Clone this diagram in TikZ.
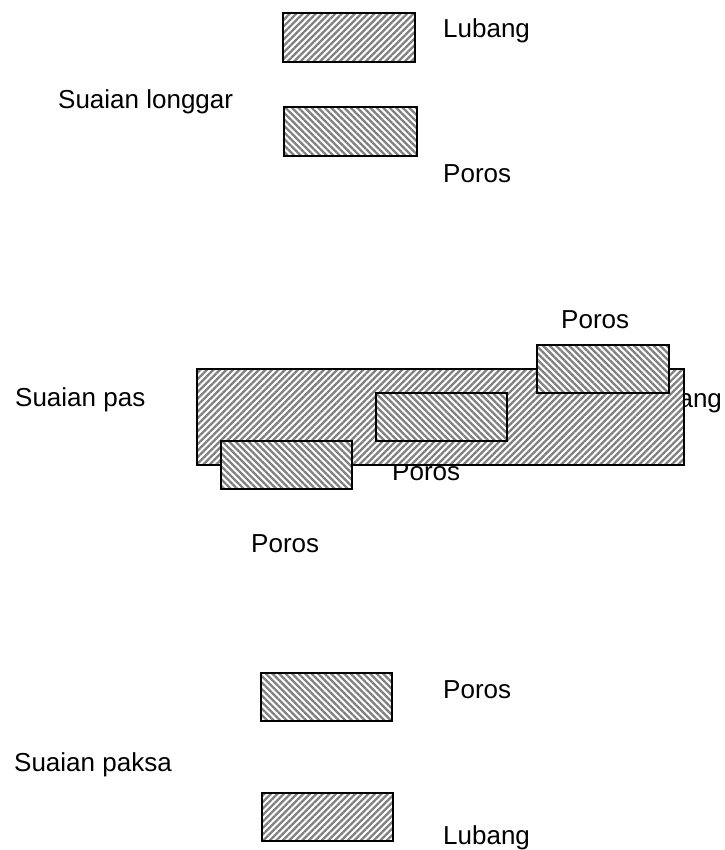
\documentclass[tikz,border=0pt]{standalone}
\usepackage{fontspec}
\setmainfont{Liberation Sans}
\usetikzlibrary{patterns.meta}
\tikzset{
  x=1pt, y=-1pt,
  lbl/.style={anchor=base west, inner sep=0pt, font=\fontsize{26}{30}\selectfont, text=black},
  lubangbox/.style={draw=black, line width=2.6pt, preaction={fill=white},
    pattern={Lines[angle=45,distance=4.6pt,line width=2.3pt]}, pattern color=black!50},
  porosbox/.style={draw=black, line width=2.6pt, preaction={fill=white},
    pattern={Lines[angle=-45,distance=4.6pt,line width=2.3pt]}, pattern color=black!50}
}
\begin{document}
\begin{tikzpicture}
\useasboundingbox (0,0) rectangle (724,850);
% --- Suaian longgar
\draw[lubangbox] (283,13) rectangle (415,62);
\draw[porosbox] (284,107) rectangle (417,156);
\node[lbl] (t1) at (443,38) {Lubang};
\node[lbl] (t2) at (58,109) {Suaian longgar};
\node[lbl] (t3) at (443,183) {Poros};
% --- Suaian pas
\node[lbl] (t4) at (561,328) {Poros};
\node[lbl] (t5) at (15,406) {Suaian pas};
\node[lbl] (t6) at (635,407) {Lubang};
\node[lbl] (t7) at (392,480) {Poros};
\node[lbl] (t8) at (251,552) {Poros};
\draw[lubangbox] (197,369) rectangle (684,465);
\draw[porosbox] (537,345) rectangle (669,393);
\draw[porosbox] (376,393) rectangle (507,441);
\draw[porosbox] (221,441) rectangle (352,489);
% --- Suaian paksa
\draw[porosbox] (261,673) rectangle (392,721);
\draw[lubangbox] (262,793) rectangle (393,841);
\node[lbl] (t9) at (443,698) {Poros};
\node[lbl] (t10) at (14,771) {Suaian paksa};
\node[lbl] (t11) at (443,844) {Lubang};
\end{tikzpicture}
\end{document}
